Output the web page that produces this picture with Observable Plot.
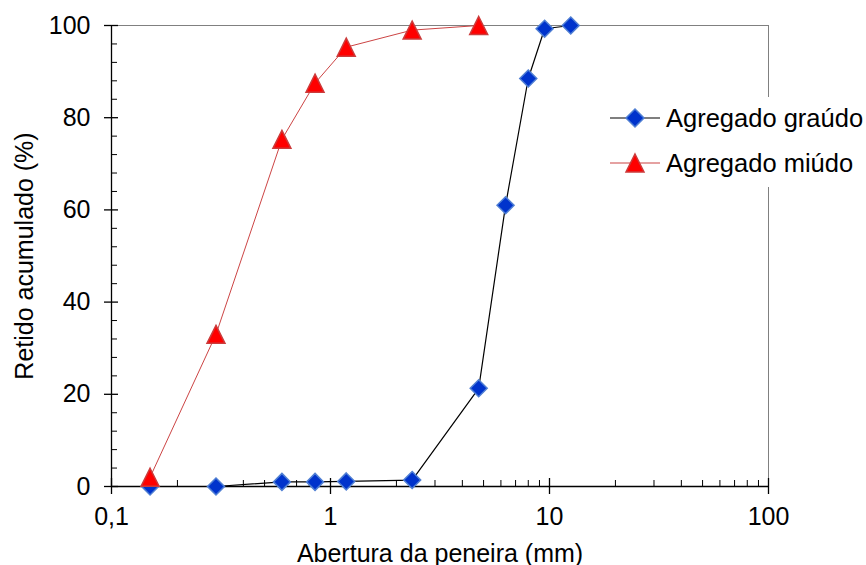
<!DOCTYPE html>
<html>
<head>
<meta charset="utf-8">
<script src="https://cdn.jsdelivr.net/npm/d3@7"></script>
<script src="https://cdn.jsdelivr.net/npm/@observablehq/plot@0.6"></script>
<style>
  body { margin: 0; background: #fff; }
  #chart { position: relative; width: 866px; height: 565px; font-family: "Liberation Sans", Arial, sans-serif; }
  .legend { position: absolute; left: 600px; top: 97px; width: 266px; height: 90px; background: #fff; }
  .row { position: absolute; left: 10px; height: 30px; display: flex; align-items: center; font-size: 25.5px; color: #000; white-space: nowrap; }
  .row svg { margin-right: 6px; }
</style>
</head>
<body>
<div id="chart"></div>
<script>
// Sieve openings (mm) and cumulative retained (%) for each aggregate
const aberturaGraudo = [0.15, 0.3, 0.6, 0.85, 1.18, 2.36, 4.75, 6.3, 8, 9.5, 12.5];
const retidoGraudo   = [0, 0, 1.0, 1.0, 1.1, 1.4, 21.3, 61.0, 88.5, 99.3, 100];
const aberturaMiudo  = [0.15, 0.3, 0.6, 0.85, 1.18, 2.36, 4.75];
const retidoMiudo    = [2.0, 33.0, 75.3, 87.5, 95.3, 99.0, 100];

const series = ["Agregado graúdo", "Agregado miúdo"];
const xTicks = [0.1, 1, 10, 100];
const yTicks = [0, 20, 40, 60, 80, 100];

const graudo = aberturaGraudo.map((x, i) => ({x, y: retidoGraudo[i]}));
const miudo = aberturaMiudo.map((x, i) => ({x, y: retidoMiudo[i]}));

// minor ticks: 2..9 within each decade, every 4 % on the y axis
const xMinor = [];
for (const d of [0.1, 1, 10]) for (let k = 2; k <= 9; k++) xMinor.push(+(k * d).toPrecision(3));
const yMinor = d3.range(0, 101, 4).filter(v => v % 20 !== 0);

const W = 866, H = 565, mL = 111, mR = 98, mT = 25, mB = 79;
const plotW = W - mL - mR, plotH = H - mT - mB;

const blue = "#0033cc", blueEdge = "#4f7fd3";
const red = "#ff0000", redEdge = "#cc3b3b", redLine = "#cc4444";

// Square diamond and bbox-centred triangle markers
const diamond = {
  draw(ctx, size) {
    const r = Math.sqrt(size / Math.PI);
    ctx.moveTo(0, -r); ctx.lineTo(r, 0); ctx.lineTo(0, r); ctx.lineTo(-r, 0); ctx.closePath();
  }
};
const triangle = {
  draw(ctx, size) {
    const r = Math.sqrt(size / Math.PI);
    ctx.moveTo(0, -r); ctx.lineTo(r, r); ctx.lineTo(-r, r); ctx.closePath();
  }
};

const fmt = d => String(d).replace(".", ",");

const chart = Plot.plot({
  width: W,
  height: H,
  marginLeft: mL,
  marginRight: mR,
  marginTop: mT,
  marginBottom: mB,
  style: {fontFamily: "'Liberation Sans', Arial, sans-serif", fontSize: "25px", color: "#000", background: "#fff", overflow: "visible"},
  x: {type: "log", domain: [0.1, 100]},
  y: {domain: [0, 100]},
  marks: [
    Plot.frame({stroke: "#808080"}),
    Plot.ruleX([0.1], {stroke: "#000", strokeWidth: 1.3}),
    Plot.ruleY([0], {stroke: "#000", strokeWidth: 1.3}),
    // crossing major ticks and inner minor ticks
    Plot.tickX(xTicks, {x: d => d, stroke: "#000", strokeWidth: 1.3, insetTop: plotH - 8, insetBottom: -8}),
    Plot.tickX(xMinor, {x: d => d, stroke: "#000", insetTop: plotH - 6}),
    Plot.tickY(yTicks, {y: d => d, stroke: "#000", strokeWidth: 1.3, insetLeft: -7, insetRight: plotW - 7}),
    Plot.tickY(yMinor, {y: d => d, stroke: "#000", insetRight: plotW - 6}),
    Plot.axisX({ticks: xTicks, tickFormat: fmt, tickSize: 0, tickPadding: 21, fontSize: 25,
      label: "Abertura da peneira (mm)", labelAnchor: "center", labelOffset: 75, labelArrow: "none"}),
    Plot.axisY({ticks: yTicks, tickFormat: fmt, tickSize: 0, tickPadding: 21, fontSize: 25,
      label: "Retido acumulado (%)", labelAnchor: "center", labelOffset: 96, labelArrow: "none"}),
    Plot.line(graudo, {x: "x", y: "y", stroke: "#000", strokeWidth: 1.2}),
    Plot.dot(graudo, {x: "x", y: "y", symbol: diamond, r: 8.5, fill: blue, stroke: blueEdge, strokeWidth: 1.5}),
    Plot.line(miudo, {x: "x", y: "y", stroke: redLine, strokeWidth: 1}),
    Plot.dot(miudo, {x: "x", y: "y", symbol: triangle, r: 9, fill: red, stroke: redEdge, strokeWidth: 1.5})
  ]
});

const host = document.getElementById("chart");
host.appendChild(chart);

// Legend block on the right side of the plot
const legend = document.createElement("div");
legend.className = "legend";
const items = [
  {label: series[0], line: "#000", fill: blue, edge: blueEdge, path: "M25,3L34,12L25,21L16,12Z", top: 6},
  {label: series[1], line: redLine, fill: red, edge: redEdge, path: "M25,3L34,21L16,21Z", top: 51}
];
for (const it of items) {
  const row = document.createElement("div");
  row.className = "row";
  row.style.top = it.top + "px";
  row.innerHTML =
    `<svg width="50" height="24" viewBox="0 0 50 24"><line x1="0" y1="12" x2="50" y2="12" stroke="${it.line}" stroke-width="1.2"/>` +
    `<path d="${it.path}" fill="${it.fill}" stroke="${it.edge}" stroke-width="1.5"/></svg><span>${it.label}</span>`;
  legend.appendChild(row);
}
host.appendChild(legend);
</script>
</body>
</html>
